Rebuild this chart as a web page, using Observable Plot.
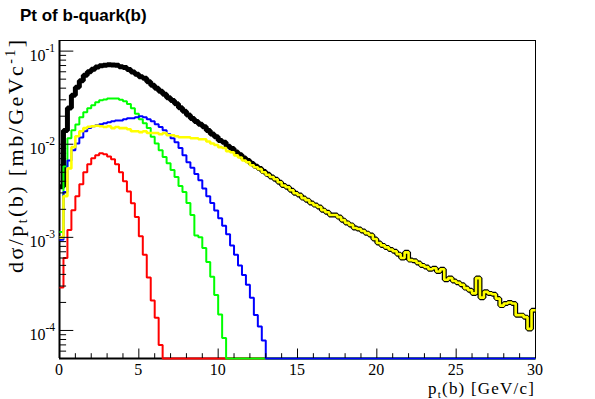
<!DOCTYPE html>
<html><head><meta charset="utf-8">
<script src="https://cdn.jsdelivr.net/npm/d3@7"></script>
<script src="https://cdn.jsdelivr.net/npm/@observablehq/plot@0.6"></script>
<style>
html,body{margin:0;padding:0;background:#fff;}
</style></head><body>
<script>
// ---- data: 120 bins of 0.25 GeV/c from 0 to 30 (values in mb/GeV c^-1) ----
const binWidth = 0.25;
const nBins = 120;
const xTicks = [0, 5, 10, 15, 20, 25, 30];
const yDecades = [1e-4, 1e-3, 1e-2, 1e-1];
const yDecadeExp = ["-4", "-3", "-2", "-1"];
const yMin = 5.0e-5, yMax = 0.13;

const totalBlack = [
 3.5e-3,1.4e-2,2.45e-2,3.35e-2,4.1e-2,4.8e-2,5.5e-2,6.0e-2,6.4e-2,6.75e-2,
 6.95e-2,7.05e-2,7.15e-2,7.1e-2,7.05e-2,6.8e-2,6.65e-2,6.35e-2,5.95e-2,5.65e-2,
 5.3e-2,5.1e-2,4.7e-2,4.3e-2,4.0e-2,3.7e-2,3.45e-2,3.15e-2,2.95e-2,2.72e-2,
 2.46e-2,2.26e-2,2.06e-2,1.89e-2,1.75e-2,1.64e-2,1.54e-2,1.4e-2,1.29e-2,1.2e-2,
 1.1e-2,1.05e-2,9.5e-3,9.0e-3,8.25e-3,7.7e-3,7.1e-3,6.7e-3,6.2e-3,5.8e-3,
 5.5e-3,5.1e-3,4.75e-3,4.45e-3,4.2e-3,3.9e-3,3.6e-3,3.45e-3,3.2e-3,2.98e-3,
 2.85e-3,2.64e-3,2.51e-3,2.34e-3,2.22e-3,2.12e-3,1.96e-3,1.86e-3,1.74e-3,1.74e-3,
 1.65e-3,1.53e-3,1.43e-3,1.36e-3,1.26e-3,1.23e-3,1.17e-3,1.11e-3,1.06e-3,9.6e-4,
 8.7e-4,8.2e-4,7.8e-4,7.4e-4,7.1e-4,6.6e-4,6.0e-4,6.9e-4,5.7e-4,5.6e-4,
 5.3e-4,5.0e-4,4.8e-4,4.55e-4,4.65e-4,4.3e-4,4.55e-4,3.5e-4,3.65e-4,3.4e-4,
 3.25e-4,3.1e-4,2.85e-4,2.7e-4,2.5e-4,3.65e-4,2.25e-4,2.6e-4,2.5e-4,2.45e-4,
 2.2e-4,1.85e-4,1.95e-4,2.0e-4,1.95e-4,1.46e-4,1.46e-4,1.39e-4,1.04e-4,1.65e-4
];
// remaining bins after the listed ones are empty (0)
const redVals = [
 2.9e-4,6.0e-4,1.2e-3,1.95e-3,2.77e-3,3.72e-3,5.01e-3,6.1e-3,7.07e-3,7.62e-3,
 8.0e-3,7.8e-3,7.4e-3,6.9e-3,6.1e-3,5.0e-3,4.0e-3,3.1e-3,2.33e-3,1.65e-3,
 1.03e-3,6.5e-4,3.7e-4,2.1e-4,1.37e-4,7.0e-5
];
const greenVals = [
 1.14e-3,5.8e-3,1.16e-2,1.41e-2,1.63e-2,1.95e-2,2.2e-2,2.43e-2,2.62e-2,2.82e-2,
 2.96e-2,3.03e-2,3.1e-2,3.1e-2,3.1e-2,3.0e-2,2.9e-2,2.7e-2,2.43e-2,2.13e-2,
 1.85e-2,1.68e-2,1.49e-2,1.2e-2,1.02e-2,8.6e-3,7.3e-3,6.25e-3,5.3e-3,4.45e-3,
 3.55e-3,3.07e-3,2.34e-3,1.74e-3,1.05e-3,1.0e-3,7.7e-4,5.45e-4,3.78e-4,2.4e-4,
 1.48e-4,8.3e-5
];
const blueVals = [
 9.4e-4,3.07e-3,6.7e-3,8.6e-3,1.02e-2,1.18e-2,1.38e-2,1.49e-2,1.56e-2,1.6e-2,
 1.64e-2,1.68e-2,1.72e-2,1.76e-2,1.8e-2,1.8e-2,1.85e-2,1.9e-2,1.9e-2,1.95e-2,
 2.0e-2,1.95e-2,1.85e-2,1.76e-2,1.64e-2,1.53e-2,1.41e-2,1.28e-2,1.16e-2,1.05e-2,
 9.1e-3,7.6e-3,6.4e-3,5.6e-3,4.8e-3,4.1e-3,3.35e-3,2.77e-3,2.34e-3,1.94e-3,
 1.6e-3,1.33e-3,1.08e-3,8.2e-4,6.5e-4,5.0e-4,3.95e-4,3.1e-4,2.25e-4,1.47e-4,
 1.1e-4,7.8e-5
];
const yellowVals = [
 1.0e-3,2.77e-3,5.5e-3,9.3e-3,1.22e-2,1.38e-2,1.49e-2,1.54e-2,1.56e-2,1.58e-2,
 1.56e-2,1.53e-2,1.56e-2,1.49e-2,1.53e-2,1.49e-2,1.49e-2,1.45e-2,1.38e-2,1.38e-2,
 1.35e-2,1.38e-2,1.32e-2,1.32e-2,1.32e-2,1.28e-2,1.32e-2,1.25e-2,1.25e-2,1.22e-2,
 1.19e-2,1.19e-2,1.19e-2,1.16e-2,1.16e-2,1.13e-2,1.13e-2,1.07e-2,1.02e-2,9.8e-3,
 9.3e-3,9.1e-3,8.4e-3,8.2e-3,7.6e-3,7.2e-3,6.7e-3,6.4e-3,5.95e-3,5.65e-3,
 5.4e-3,5.0e-3,4.7e-3,4.45e-3,4.2e-3,3.9e-3,3.6e-3,3.45e-3,3.2e-3,2.98e-3,
 2.85e-3,2.64e-3,2.51e-3,2.34e-3,2.22e-3,2.12e-3,1.96e-3,1.86e-3,1.74e-3,1.74e-3,
 1.65e-3,1.53e-3,1.43e-3,1.36e-3,1.26e-3,1.23e-3,1.17e-3,1.11e-3,1.06e-3,9.6e-4,
 8.7e-4,8.2e-4,7.8e-4,7.4e-4,7.1e-4,6.6e-4,6.0e-4,6.9e-4,5.7e-4,5.6e-4,
 5.3e-4,5.0e-4,4.8e-4,4.55e-4,4.65e-4,4.3e-4,4.55e-4,3.5e-4,3.65e-4,3.4e-4,
 3.25e-4,3.1e-4,2.85e-4,2.7e-4,2.5e-4,3.65e-4,2.25e-4,2.6e-4,2.5e-4,2.45e-4,
 2.2e-4,1.85e-4,1.95e-4,2.0e-4,1.95e-4,1.46e-4,1.46e-4,1.39e-4,1.04e-4,1.65e-4
];

// ---- build step outlines (empty bins sit on the bottom of the log frame, like ROOT) ----
const padBins = a => a.concat(new Array(nBins - a.length).fill(0));
function steps(vals) {
  return padBins(vals).flatMap((v, i) => [
    {x: i * binWidth, y: v > 0 ? v : yMin},
    {x: (i + 1) * binWidth, y: v > 0 ? v : yMin}
  ]);
}
const series = [
  {vals: totalBlack, color: "#000000", w: 5},
  {vals: redVals, color: "#ff0000", w: 2},
  {vals: greenVals, color: "#00ff00", w: 2},
  {vals: blueVals, color: "#0000ff", w: 2},
  {vals: yellowVals, color: "#ffff00", w: 2.6}
];

const W = 595, H = 399, mL = 59, mR = 60, mT = 40, mB = 41;
const frameW = W - mL - mR, frameH = H - mT - mB;
const xMinor = d3.range(0, 31, 1).filter(v => v % 5 !== 0);
const yMinor = [];
for (let e = -5; e <= -1; e++) for (let k = 2; k <= 9; k++) {
  const v = k * Math.pow(10, e);
  if (v >= yMin && v <= yMax) yMinor.push(v);
}

const chart = Plot.plot({
  width: W, height: H,
  marginLeft: mL, marginRight: mR, marginTop: mT, marginBottom: mB,
  x: {domain: [0, 30], axis: null},
  y: {type: "log", domain: [yMin, yMax], axis: null},
  marks: [
    Plot.frame({stroke: "black", strokeWidth: 1}),
    Plot.ruleX([0], {stroke: "black", strokeWidth: 2}),
    Plot.ruleY([yMin], {stroke: "black", strokeWidth: 2}),
    ...series.map(s => Plot.line(steps(s.vals), {
      x: "x", y: "y", stroke: s.color, strokeWidth: s.w,
      strokeLinejoin: "miter", strokeLinecap: "butt"
    })),
    Plot.tickX(xTicks, {x: d => d, stroke: "black", strokeWidth: 1, insetTop: frameH - 9.5}),
    Plot.tickX(xMinor, {x: d => d, stroke: "black", strokeWidth: 1, insetTop: frameH - 4.8}),
    Plot.tickY(yDecades, {y: d => d, stroke: "black", strokeWidth: 1, insetRight: frameW - 14.3}),
    Plot.tickY(yMinor, {y: d => d, stroke: "black", strokeWidth: 1, insetRight: frameW - 7.1})
  ]
});
document.body.appendChild(chart);

const sx = chart.scale("x"), sy = chart.scale("y");
const svg = d3.select(chart);
const serif = "'Liberation Serif','Times New Roman',Times,serif";

// title
svg.append("text").attr("x", 20).attr("y", 21).attr("text-anchor", "start")
  .attr("font-family", "'Liberation Sans',Arial,Helvetica,sans-serif")
  .attr("font-weight", "bold").attr("font-size", 17).attr("fill", "black")
  .text("Pt of b-quark(b)");

// x tick labels
xTicks.forEach(v => {
  svg.append("text").attr("x", sx.apply(v)).attr("y", 375)
    .attr("text-anchor", "middle").attr("font-family", serif).attr("font-size", 16)
    .attr("fill", "black").text(String(v));
});

// y tick labels 10^n
yDecades.forEach((v, i) => {
  const t = svg.append("text").attr("x", 55).attr("y", sy.apply(v) + 10.5)
    .attr("text-anchor", "end").attr("font-family", serif).attr("font-size", 16)
    .attr("fill", "black");
  t.append("tspan").text("10");
  t.append("tspan").attr("dy", -9).attr("font-size", 11.5).text(yDecadeExp[i]);
});

// x axis title
const xt = svg.append("text").attr("x", 534).attr("y", 394)
  .attr("text-anchor", "end").attr("font-family", serif).attr("font-size", 17)
  .attr("fill", "black").attr("textLength", 106).attr("lengthAdjust", "spacing");
xt.append("tspan").text("p");
xt.append("tspan").attr("dy", 4).attr("font-size", 11).text("t");
xt.append("tspan").attr("dy", -4).text("(b) [GeV/c]");

// y axis title
const yt = svg.append("text")
  .attr("transform", "translate(23,40) rotate(-90)")
  .attr("text-anchor", "end").attr("font-family", serif).attr("font-size", 22)
  .attr("fill", "black").attr("textLength", 233).attr("lengthAdjust", "spacing");
yt.append("tspan").text("dσ/p");
yt.append("tspan").attr("dy", 4).attr("font-size", 14).text("t");
yt.append("tspan").attr("dy", -4).text("(b) [mb/GeVc");
yt.append("tspan").attr("dy", -8).attr("font-size", 14).text("-1");
yt.append("tspan").attr("dy", 8).text("]");
</script>
</body></html>
